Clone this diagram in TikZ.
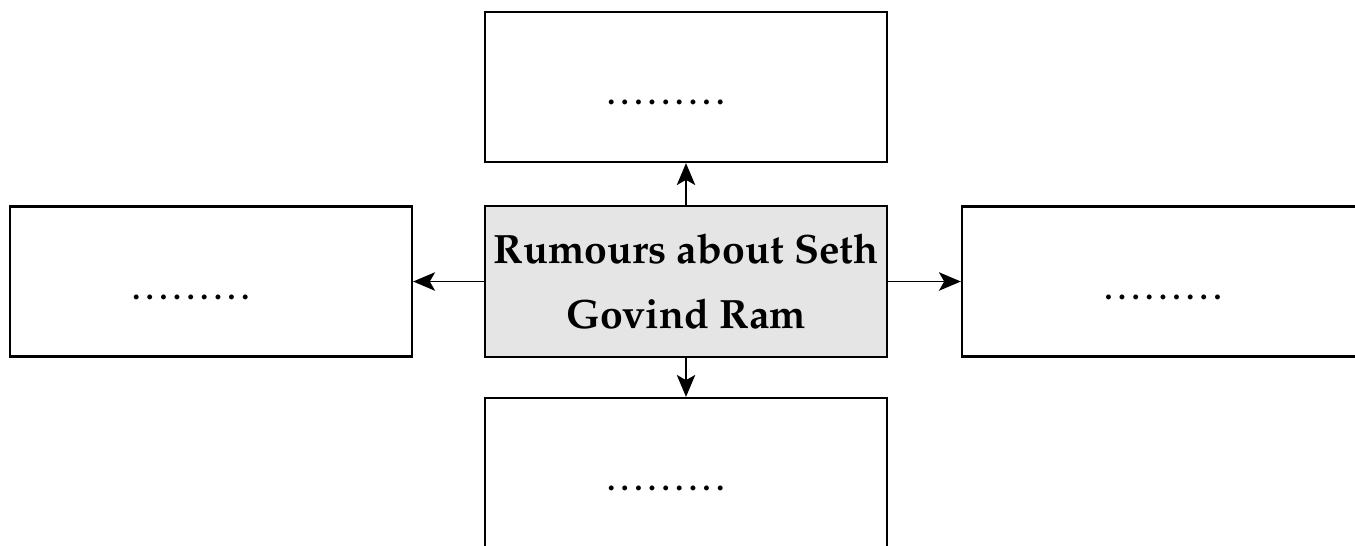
\documentclass[tikz,border=0pt]{standalone}
\usepackage[T1]{fontenc}
\usepackage{mathpazo}
\usepackage{tikz}
\usetikzlibrary{arrows.meta}

\newcommand{\blankline}[1][0pt]{\strut\foreach \k in {1,...,9}{\makebox[7.75pt]{.}}\hspace*{#1}}

\begin{document}
\begin{tikzpicture}[x=0.02cm,y=-0.02cm,
  box/.style={draw,line width=1.3pt,minimum width=8.04cm,minimum height=3cm,inner sep=0pt,
    font=\fontsize{18}{50}\selectfont\bfseries},
  arr/.style={line width=1pt,-{Stealth[length=12.5pt,width=10.5pt,inset=3pt]}}]
\clip (0,0) rectangle (1355,545);
\fill[white] (0,0) rectangle (1355,545);
\node[box,fill=black!10,minimum height=3.02cm,align=center,
  font=\fontsize{23.3}{37}\selectfont\bfseries] (rumour) at (686,281.5)
  {Rumours about Seth\\Govind Ram};
\node[box] (top) at (686,87) {\blankline[23pt]};
\node[box] (left) at (211,281.5) {\blankline[23pt]};
\node[box] (right) at (1163,281.5) {\blankline};
\node[box] (bottom) at (686,473) {\blankline[23pt]};
\draw[arr] (rumour) -- (top);
\draw[arr] (rumour) -- (left);
\draw[arr] (rumour) -- (right);
\draw[arr] (rumour) -- (bottom);
\end{tikzpicture}
\end{document}
